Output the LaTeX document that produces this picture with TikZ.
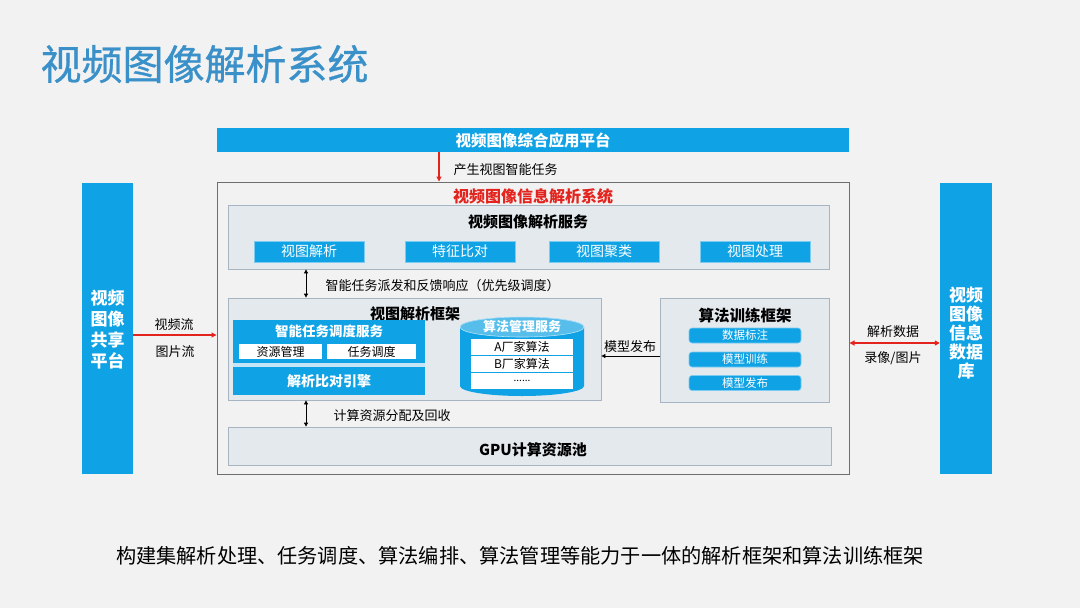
\documentclass[tikz,border=0pt]{standalone}
\usepackage{fontspec}
\setmainfont{Noto Sans CJK SC}
\newfontfamily\titleFont[FakeBold=0.7]{Noto Sans CJK SC}
\usepackage{tikz}
\usetikzlibrary{arrows.meta}
\definecolor{pageGray}{HTML}{F2F2F2}
\definecolor{titleBlue}{HTML}{3A90C8}
\definecolor{barBlue}{HTML}{0FA2E4}
\definecolor{panelFill}{HTML}{E4E9EE}
\definecolor{panelLine}{HTML}{A7B4C2}
\definecolor{frameLine}{HTML}{6E6E6E}
\definecolor{alertRed}{HTML}{E3241E}
\definecolor{stripeBlue}{HTML}{C4E5F5}

\begin{document}
\begin{tikzpicture}[x=1pt, y=-1pt,
    bar/.style={fill=barBlue, inner sep=0pt},
    panel/.style={fill=panelFill, draw=panelLine, line width=0.8pt, inner sep=0pt},
    btn/.style={fill=barBlue, draw=barBlue!55!white, line width=0.6pt, inner sep=0pt,
        minimum width=110pt, minimum height=21pt, text=white, font=\fontsize{14}{16}\selectfont},
    trainbtn/.style={fill=barBlue, draw=barBlue!55!white, line width=0.6pt, inner sep=0pt,
        rounded corners=3pt, minimum width=112pt, minimum height=15pt, text=white,
        font=\fontsize{11.5}{13}\selectfont},
    rowbox/.style={fill=white, inner sep=0pt, font=\fontsize{12}{14}\selectfont},
    lbl/.style={font=\fontsize{13}{15}\selectfont},
    hdr/.style={font=\bfseries\fontsize{15}{18}\selectfont},
    whiteHdr/.style={text=white, font=\bfseries\fontsize{13.5}{16}\selectfont},
    redArrow/.style={draw=alertRed, line width=1.1pt, -{Triangle[length=5pt,width=5pt]}},
    redBoth/.style={draw=alertRed, line width=1.1pt, {Triangle[length=5pt,width=5pt]}-{Triangle[length=5pt,width=5pt]}},
    blkBoth/.style={line width=0.8pt, {Triangle[length=4pt,width=4pt]}-{Triangle[length=4pt,width=4pt]}},
    blkArrow/.style={line width=0.8pt, -{Triangle[length=4pt,width=4pt]}}
]
    \useasboundingbox (0,0) rectangle (1080,608);
    \fill[pageGray] (0,0) rectangle (1080,608);

    % title and summary
    \node[anchor=west, text=titleBlue, font=\titleFont\fontsize{41}{46}\selectfont] (title) at (37,64) {视频图像解析系统};
    \node[font=\fontsize{20.2}{24}\selectfont] (summary) at (520,556)
        {构建集解析处理、任务调度、算法编排、算法管理等能力于一体的解析框架和算法训练框架};

    % platforms
    \node[bar, minimum width=632pt, minimum height=24pt, text=white, font=\bfseries\fontsize{15.5}{18}\selectfont]
        (topbar) at (533,140) {视频图像综合应用平台};
    \node[bar, minimum width=51pt, minimum height=291pt] (leftbar) at (107.5,328.5) {};
    \node[text=white, align=center, font=\bfseries\fontsize{17}{21}\selectfont] (leftTxt) at (107.5,330) {视频\\图像\\共享\\平台};
    \node[bar, minimum width=52pt, minimum height=291pt] (rightbar) at (966,328.5) {};
    \node[text=white, align=center, font=\bfseries\fontsize{17}{19}\selectfont] (rightTxt) at (966,333) {视频\\图像\\信息\\数据\\库};

    % main system
    \node[draw=frameLine, line width=1pt, fill=pageGray, minimum width=632pt, minimum height=292pt, inner sep=0pt]
        (mainbox) at (533,328) {};
    \node[text=alertRed, font=\bfseries\fontsize{16}{18}\selectfont] (sysTitle) at (533,196) {视频图像信息解析系统};

    % service layer
    \node[panel, minimum width=601pt, minimum height=64pt] (service) at (528.5,237) {};
    \node[hdr] (serviceTitle) at (528,222) {视频图像解析服务};
    \foreach \name/\cx/\txt in {viewParse/309/视图解析, featCmp/460/特征比对, viewCluster/604/视图聚类, viewProc/755/视图处理}
        \node[btn] (\name) at (\cx,251.5) {\txt};

    % parsing framework
    \node[panel, minimum width=373pt, minimum height=102pt] (frame) at (414.5,349) {};
    \node[hdr] (frameTitle) at (415,314) {视图解析框架};
    \node[bar, minimum width=192pt, minimum height=75pt] (sched) at (329,357.5) {};
    \node[fill=stripeBlue, inner sep=0pt, minimum width=192pt, minimum height=4pt] (stripe) at (329,365) {};
    \node[whiteHdr] (schedTitle) at (329,331) {智能任务调度服务};
    \node[rowbox, minimum width=83pt, minimum height=15pt] (resMgmt) at (280.5,351.5) {资源管理};
    \node[rowbox, minimum width=89pt, minimum height=15pt] (taskSched) at (371.5,351.5) {任务调度};
    \node[whiteHdr, font=\bfseries\fontsize{14}{16}\selectfont] (engine) at (329,381.5) {解析比对引擎};

    % algorithm store
    \fill[barBlue] (460,327) -- (460,386) arc[start angle=180, end angle=0, x radius=62, y radius=10]
        -- (584,327) arc[start angle=0, end angle=-180, x radius=62, y radius=10] -- cycle;
    \draw[fill=barBlue!70!white, draw=white!70!barBlue, line width=0.6pt] (522,327) ellipse[x radius=62, y radius=10];
    \node[whiteHdr, font=\bfseries\fontsize{13}{15}\selectfont] (algTitle) at (522,327) {算法管理服务};
    \node[rowbox, minimum width=102pt, minimum height=16pt] (algA) at (522,347) {A厂家算法};
    \node[rowbox, minimum width=102pt, minimum height=16pt] (algB) at (522,364) {B厂家算法};
    \node[rowbox, minimum width=102pt, minimum height=16pt, font=\fontsize{10}{12}\selectfont] (algMore) at (522,381) {......};

    % training framework
    \node[panel, minimum width=169pt, minimum height=104pt] (train) at (744.5,350) {};
    \node[hdr, font=\bfseries\fontsize{15.5}{18}\selectfont] (trainTitle) at (745,316) {算法训练框架};
    \foreach \name/\cy/\txt in {dataLabel/335.5/数据标注, modelTrain/359.5/模型训练, modelPub/383/模型发布}
        \node[trainbtn] (\name) at (745,\cy) {\txt};

    % GPU pool
    \node[panel, minimum width=603pt, minimum height=38pt] (gpu) at (529.5,446) {};
    \node[hdr] (gpuTitle) at (533,450) {GPU计算资源池};

    % connectors
    \coordinate (taskX) at (439,0);
    \coordinate (dispX) at (306,0);
    \coordinate (flowY) at (0,335);
    \coordinate (dataY) at (0,343);
    \coordinate (modelY) at (0,356);

    \draw[redArrow] (taskX |- topbar.south) -- (taskX |- mainbox.north);
    \node[lbl, anchor=west] (taskLbl) at (450,170) {产生视图智能任务};

    \draw[blkBoth] (dispX |- service.south) -- (dispX |- frame.north);
    \node[lbl, anchor=west] (dispLbl) at (322,286) {智能任务派发和反馈响应（优先级调度）};

    \draw[blkBoth] (dispX |- frame.south) -- (dispX |- gpu.north);
    \node[lbl, anchor=west] (gpuLbl) at (330,416) {计算资源分配及回收};

    \draw[blkArrow] (train.west |- modelY) -- (frame.east |- modelY);
    \node[lbl] (modelLbl) at (630,347) {模型发布};

    \draw[redArrow] (leftbar.east |- flowY) -- (mainbox.west |- flowY);
    \node[lbl] (videoLbl) at (174,325) {视频流};
    \node[lbl] (picLbl) at (175,352) {图片流};

    \draw[redBoth] (mainbox.east |- dataY) -- (rightbar.west |- dataY);
    \node[lbl] (dataLbl) at (893,332) {解析数据};
    \node[lbl] (recLbl) at (893,358) {录像/图片};
\end{tikzpicture}
\end{document}
